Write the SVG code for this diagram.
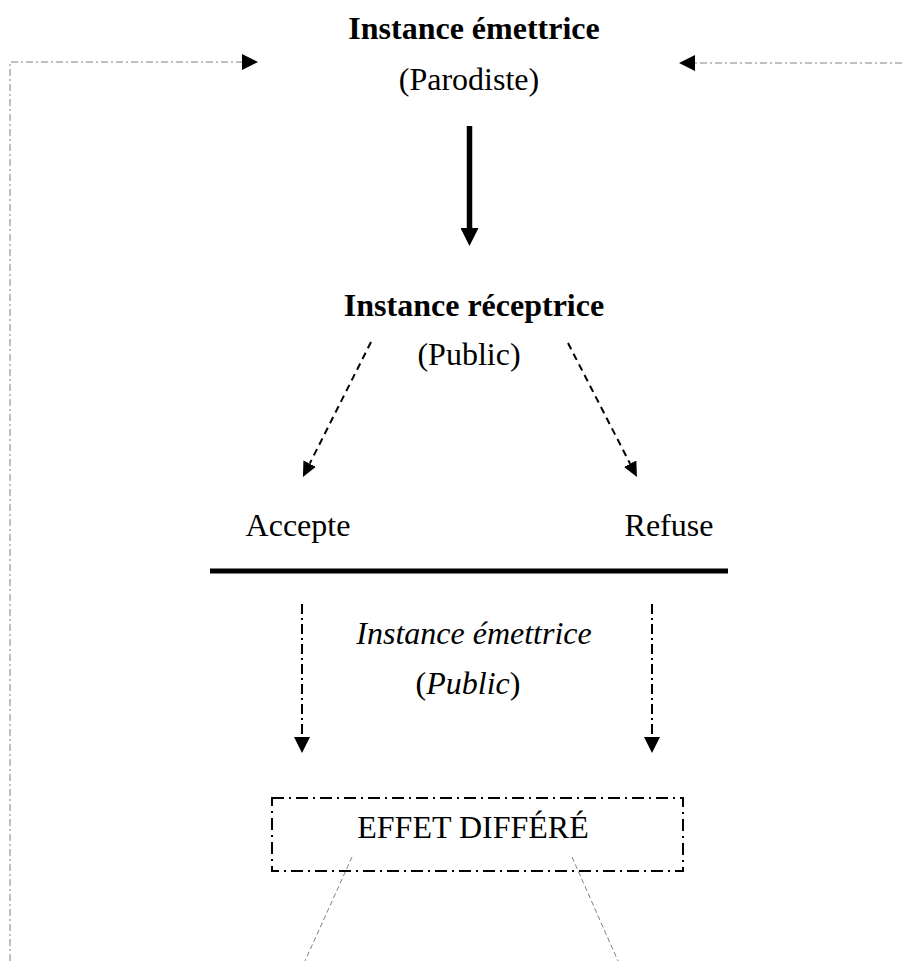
<svg xmlns="http://www.w3.org/2000/svg" width="902" height="961" viewBox="0 0 902 961">
<style>
text{font-family:"Liberation Serif","Times New Roman",serif;font-size:32px;fill:#000;text-anchor:middle}
.b{font-weight:bold}
.i{font-style:italic}
.thin{fill:none;stroke:#808080;stroke-width:1;stroke-dasharray:7 3 2 3}
.dash{fill:none;stroke:#000;stroke-width:2;stroke-dasharray:7 5}
.dd{fill:none;stroke:#000;stroke-width:2;stroke-dasharray:10 4 2 4}
.box{fill:none;stroke:#000;stroke-width:2;stroke-dasharray:12 5 2 5}
.slant{fill:none;stroke:#808080;stroke-width:1;stroke-dasharray:5 3}
</style>
<defs>
<marker id="ah" markerUnits="userSpaceOnUse" markerWidth="16" markerHeight="16" refX="0" refY="8" orient="auto"><path d="M0,0 L16,8 L0,16 z" fill="#000"/></marker>
<marker id="ahs" markerUnits="userSpaceOnUse" markerWidth="15" markerHeight="14" refX="0" refY="7" orient="auto"><path d="M0,0 L15,7 L0,14 z" fill="#000"/></marker>
<marker id="ahb" markerUnits="userSpaceOnUse" markerWidth="18" markerHeight="18" refX="0" refY="9" orient="auto"><path d="M0,0 L18,9 L0,18 z" fill="#000"/></marker>
</defs>
<g id="connectors">
<path class="thin" d="M10,961 L10,62 L242,62" marker-end="url(#ah)"/>
<path class="thin" d="M902,63 L695,63" marker-end="url(#ah)"/>
<line x1="469.5" y1="126" x2="469.5" y2="228" stroke="#000" stroke-width="5.5" marker-end="url(#ahb)"/>
<line class="dash" x1="371" y1="342" x2="309.7" y2="463.6" marker-end="url(#ahs)"/>
<line class="dash" x1="568" y1="343" x2="630.1" y2="463.7" marker-end="url(#ahs)"/>
<line x1="210" y1="571" x2="728" y2="571" stroke="#000" stroke-width="5"/>
<line class="dd" x1="302" y1="604" x2="302" y2="737" marker-end="url(#ah)"/>
<line class="dd" x1="652" y1="604" x2="652" y2="737" marker-end="url(#ah)"/>
<line class="slant" x1="352" y1="857" x2="305" y2="961"/>
<line class="slant" x1="572" y1="857" x2="618" y2="961"/>
</g>
<g id="emettrice">
<text class="b" x="474" y="39">Instance émettrice</text>
<text x="469" y="90">(Parodiste)</text>
</g>
<g id="receptrice">
<text class="b" x="474" y="316">Instance réceptrice</text>
<text x="469" y="365">(Public)</text>
</g>
<g id="accepte"><text x="298" y="536">Accepte</text></g>
<g id="refuse"><text x="669" y="536">Refuse</text></g>
<g id="emettrice-public">
<text class="i" x="474" y="644">Instance émettrice</text>
<text x="468" y="694">(<tspan class="i">Public</tspan>)</text>
</g>
<g id="effet">
<rect class="box" x="272" y="798" width="411" height="73"/>
<text x="473" y="838">EFFET DIFFÉRÉ</text>
</g>
</svg>
